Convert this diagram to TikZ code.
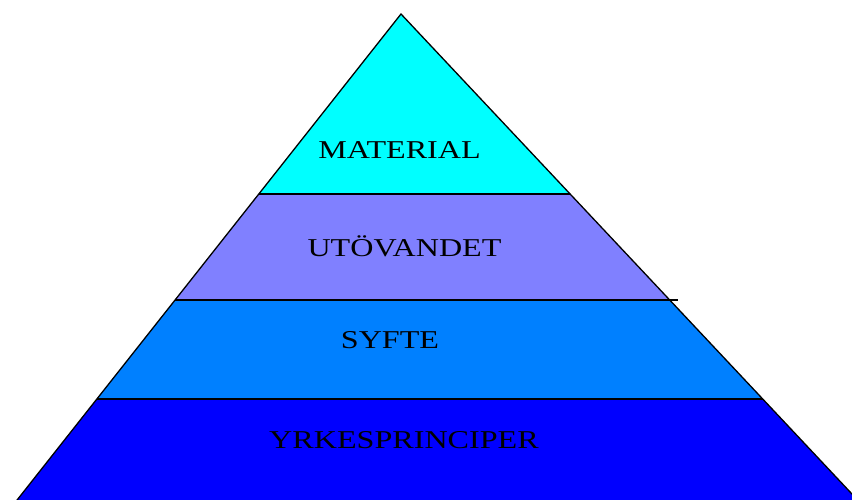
\documentclass[tikz,border=0pt]{standalone}
\usepackage{fontspec}
\setmainfont{Liberation Serif}[FakeStretch=1.25]
\definecolor{cTop}{HTML}{00FFFF}
\definecolor{cTwo}{HTML}{8080FF}
\definecolor{cThree}{HTML}{0080FF}
\definecolor{cBot}{HTML}{0000FF}
\tikzset{
  lvl/.style={font=\fontsize{25.7}{28}\selectfont, text=black, inner sep=0pt, anchor=center},
  edge/.style={draw=black, line width=1.3pt},
}
\begin{document}
\begin{tikzpicture}[x=1pt,y=-1pt]
\useasboundingbox (0,0) rectangle (852,500);
\clip (0,0) rectangle (852,500);
\coordinate (A) at (401,14);
\coordinate (L1) at (258.8,194); \coordinate (R1) at (570.2,194);
\coordinate (L2) at (175.1,300); \coordinate (R2) at (669.8,300);
\coordinate (L3) at (96.8,399);  \coordinate (R3) at (762.9,399);
\coordinate (L4) at (9.2,510);   \coordinate (R4) at (867,510);
\fill[cTop] (A) -- (R1) -- (L1) -- cycle;
\fill[cTwo] (L1) -- (R1) -- (R2) -- (L2) -- cycle;
\fill[cThree] (L2) -- (R2) -- (R3) -- (L3) -- cycle;
\fill[cBot] (L3) -- (R3) -- (R4) -- (L4) -- cycle;
\draw[edge] (L4) -- (A) -- (R4);
\draw[edge] (L1) -- (R1);
\draw[edge] (L2) -- (678,300);
\draw[edge] (L3) -- (R3);
\node[lvl] (t1) at (399.5,150.5) {MATERIAL};
\node[lvl] (t2) at (404.5,246.5) {UTÖVANDET};
\node[lvl] (t3) at (390,340) {SYFTE};
\node[lvl] (t4) at (404,440) {YRKESPRINCIPER};
\end{tikzpicture}
\end{document}
